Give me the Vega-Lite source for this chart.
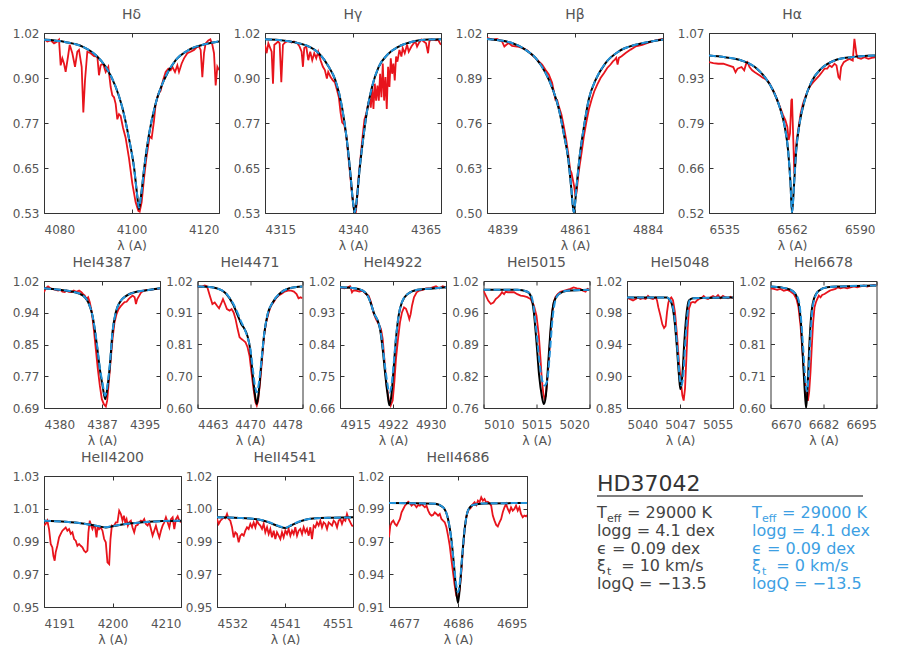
{
"$schema": "https://vega.github.io/schema/vega-lite/v6.json",
"background": "white",
"padding": {"left": 11, "top": 7, "right": 5, "bottom": 5},
"config": {
 "font": "DejaVu Sans",
 "view": {"stroke": "#333333", "strokeWidth": 1},
 "axis": {"domain": false, "grid": false, "tickColor": "#333333", "tickSize": -4, "tickWidth": 1, "labelColor": "#555555", "labelFontSize": 12, "titleColor": "#555555", "titleFontSize": 12.5, "titleFontWeight": "normal", "labelFont": "DejaVu Sans", "titleFont": "DejaVu Sans"},
 "axisX": {"labelPadding": 15, "titlePadding": 4},
 "axisY": {"labelPadding": 9},
 "title": {"fontSize": 14, "fontWeight": "normal", "color": "#555555", "offset": 5, "font": "DejaVu Sans"}
},
"datasets": {
 "Hd": [
{"s":"o","w":4080.0,"f":1.003},{"s":"o","w":4080.76,"f":0.997},{"s":"o","w":4081.52,"f":1.0},{"s":"o","w":4082.29,"f":0.992},{"s":"o","w":4083.05,"f":0.997},{"s":"o","w":4083.43,"f":1.002},{"s":"o","w":4083.81,"f":0.932},{"s":"o","w":4084.19,"f":0.951},{"s":"o","w":4084.57,"f":0.937},{"s":"o","w":4084.95,"f":0.914},{"s":"o","w":4085.49,"f":0.956},{"s":"o","w":4085.87,"f":0.988},{"s":"o","w":4086.48,"f":0.965},{"s":"o","w":4087.09,"f":0.928},{"s":"o","w":4087.62,"f":0.969},{"s":"o","w":4088.0,"f":0.974},{"s":"o","w":4088.61,"f":0.928},{"s":"o","w":4088.99,"f":0.804},{"s":"o","w":4089.37,"f":0.891},{"s":"o","w":4089.9,"f":0.969},{"s":"o","w":4090.67,"f":0.965},{"s":"o","w":4091.43,"f":0.957},{"s":"o","w":4092.19,"f":0.956},{"s":"o","w":4092.57,"f":0.905},{"s":"o","w":4092.95,"f":0.932},{"s":"o","w":4093.49,"f":0.937},{"s":"o","w":4094.1,"f":0.914},{"s":"o","w":4094.7,"f":0.928},{"s":"o","w":4095.24,"f":0.873},{"s":"o","w":4095.62,"f":0.85},{"s":"o","w":4096.0,"f":0.845},{"s":"o","w":4096.38,"f":0.827},{"s":"o","w":4096.76,"f":0.785},{"s":"o","w":4097.14,"f":0.799},{"s":"o","w":4097.52,"f":0.794},{"s":"o","w":4098.06,"f":0.762},{"s":"o","w":4098.67,"f":0.734},{"s":"o","w":4099.43,"f":0.679},{"s":"o","w":4100.19,"f":0.61},{"s":"o","w":4100.95,"f":0.559},{"s":"o","w":4101.56,"f":0.536},{"s":"o","w":4101.87,"f":0.534},{"s":"o","w":4102.32,"f":0.559},{"s":"o","w":4102.86,"f":0.624},{"s":"o","w":4103.39,"f":0.679},{"s":"o","w":4103.85,"f":0.716},{"s":"o","w":4104.15,"f":0.739},{"s":"o","w":4104.61,"f":0.734},{"s":"o","w":4105.14,"f":0.781},{"s":"o","w":4105.52,"f":0.827},{"s":"o","w":4106.13,"f":0.854},{"s":"o","w":4106.67,"f":0.863},{"s":"o","w":4107.2,"f":0.891},{"s":"o","w":4107.81,"f":0.914},{"s":"o","w":4108.42,"f":0.923},{"s":"o","w":4108.95,"f":0.919},{"s":"o","w":4109.33,"f":0.928},{"s":"o","w":4109.94,"f":0.914},{"s":"o","w":4110.48,"f":0.932},{"s":"o","w":4110.86,"f":0.914},{"s":"o","w":4111.47,"f":0.937},{"s":"o","w":4112.0,"f":0.951},{"s":"o","w":4112.76,"f":0.965},{"s":"o","w":4113.52,"f":0.969},{"s":"o","w":4114.29,"f":0.974},{"s":"o","w":4115.05,"f":0.983},{"s":"o","w":4115.43,"f":0.983},{"s":"o","w":4115.81,"f":0.974},{"s":"o","w":4116.19,"f":0.9},{"s":"o","w":4116.57,"f":0.965},{"s":"o","w":4116.95,"f":0.992},{"s":"o","w":4117.56,"f":1.0},{"s":"o","w":4118.02,"f":1.003},{"s":"o","w":4118.48,"f":0.988},{"s":"o","w":4118.86,"f":0.965},{"s":"o","w":4119.24,"f":0.877},{"s":"o","w":4119.62,"f":0.928},{"s":"o","w":4120.0,"f":0.919},
{"s":"k","w":4080,"f":1.002},{"s":"k","w":4085,"f":0.995},{"s":"k","w":4088.8,"f":0.983},{"s":"k","w":4091.8,"f":0.96},{"s":"k","w":4094.1,"f":0.928},{"s":"k","w":4096.4,"f":0.873},{"s":"k","w":4097.9,"f":0.817},{"s":"k","w":4099.4,"f":0.734},{"s":"k","w":4100.6,"f":0.652},{"s":"k","w":4101.3,"f":0.578},{"s":"k","w":4101.7,"f":0.54},{"s":"k","w":4102.1,"f":0.569},{"s":"k","w":4102.9,"f":0.652},{"s":"k","w":4104.0,"f":0.744},{"s":"k","w":4105.5,"f":0.827},{"s":"k","w":4107.4,"f":0.891},{"s":"k","w":4110.1,"f":0.946},{"s":"k","w":4113.1,"f":0.974},{"s":"k","w":4117.0,"f":0.99},{"s":"k","w":4120,"f":0.997},
{"s":"b","w":4080,"f":1.002},{"s":"b","w":4085,"f":0.995},{"s":"b","w":4088.8,"f":0.983},{"s":"b","w":4091.8,"f":0.96},{"s":"b","w":4094.1,"f":0.928},{"s":"b","w":4096.4,"f":0.873},{"s":"b","w":4097.9,"f":0.817},{"s":"b","w":4099.4,"f":0.734},{"s":"b","w":4100.6,"f":0.652},{"s":"b","w":4101.3,"f":0.578},{"s":"b","w":4101.7,"f":0.545},{"s":"b","w":4102.1,"f":0.569},{"s":"b","w":4102.9,"f":0.652},{"s":"b","w":4104.0,"f":0.744},{"s":"b","w":4105.5,"f":0.827},{"s":"b","w":4107.4,"f":0.891},{"s":"b","w":4110.1,"f":0.946},{"s":"b","w":4113.1,"f":0.974},{"s":"b","w":4117.0,"f":0.99},{"s":"b","w":4120,"f":0.997}
 ],
 "Hg": [
{"s":"o","w":4315.0,"f":0.988},{"s":"o","w":4315.47,"f":0.965},{"s":"o","w":4315.95,"f":0.992},{"s":"o","w":4316.32,"f":0.983},{"s":"o","w":4316.89,"f":0.969},{"s":"o","w":4317.27,"f":0.882},{"s":"o","w":4317.65,"f":0.988},{"s":"o","w":4318.21,"f":0.992},{"s":"o","w":4318.69,"f":0.997},{"s":"o","w":4319.16,"f":0.992},{"s":"o","w":4319.63,"f":0.886},{"s":"o","w":4320.1,"f":0.988},{"s":"o","w":4320.67,"f":0.994},{"s":"o","w":4321.33,"f":0.997},{"s":"o","w":4321.99,"f":0.997},{"s":"o","w":4322.56,"f":0.994},{"s":"o","w":4323.22,"f":0.997},{"s":"o","w":4324.17,"f":0.992},{"s":"o","w":4324.83,"f":0.983},{"s":"o","w":4325.4,"f":0.969},{"s":"o","w":4325.78,"f":0.928},{"s":"o","w":4326.15,"f":0.979},{"s":"o","w":4326.72,"f":0.983},{"s":"o","w":4327.29,"f":0.946},{"s":"o","w":4327.85,"f":0.969},{"s":"o","w":4328.42,"f":0.946},{"s":"o","w":4328.99,"f":0.965},{"s":"o","w":4329.56,"f":0.951},{"s":"o","w":4330.12,"f":0.969},{"s":"o","w":4330.78,"f":0.946},{"s":"o","w":4331.45,"f":0.928},{"s":"o","w":4332.01,"f":0.919},{"s":"o","w":4332.58,"f":0.896},{"s":"o","w":4332.96,"f":0.914},{"s":"o","w":4333.62,"f":0.9},{"s":"o","w":4334.28,"f":0.891},{"s":"o","w":4334.85,"f":0.886},{"s":"o","w":4335.51,"f":0.863},{"s":"o","w":4335.98,"f":0.845},{"s":"o","w":4336.46,"f":0.804},{"s":"o","w":4336.93,"f":0.776},{"s":"o","w":4337.5,"f":0.771},{"s":"o","w":4338.06,"f":0.744},{"s":"o","w":4338.63,"f":0.688},{"s":"o","w":4339.2,"f":0.633},{"s":"o","w":4339.76,"f":0.578},{"s":"o","w":4340.33,"f":0.537},{"s":"o","w":4340.71,"f":0.525},{"s":"o","w":4341.09,"f":0.559},{"s":"o","w":4341.65,"f":0.633},{"s":"o","w":4342.22,"f":0.688},{"s":"o","w":4342.79,"f":0.744},{"s":"o","w":4343.26,"f":0.785},{"s":"o","w":4343.73,"f":0.799},{"s":"o","w":4344.3,"f":0.827},{"s":"o","w":4344.68,"f":0.84},{"s":"o","w":4345.06,"f":0.817},{"s":"o","w":4345.44,"f":0.873},{"s":"o","w":4345.81,"f":0.813},{"s":"o","w":4346.19,"f":0.882},{"s":"o","w":4346.57,"f":0.836},{"s":"o","w":4346.95,"f":0.877},{"s":"o","w":4347.33,"f":0.836},{"s":"o","w":4347.7,"f":0.909},{"s":"o","w":4348.08,"f":0.845},{"s":"o","w":4348.46,"f":0.937},{"s":"o","w":4348.84,"f":0.836},{"s":"o","w":4349.22,"f":0.9},{"s":"o","w":4349.59,"f":0.813},{"s":"o","w":4349.97,"f":0.928},{"s":"o","w":4350.35,"f":0.873},{"s":"o","w":4350.73,"f":0.951},{"s":"o","w":4351.11,"f":0.909},{"s":"o","w":4351.48,"f":0.937},{"s":"o","w":4351.86,"f":0.891},{"s":"o","w":4352.24,"f":0.956},{"s":"o","w":4352.62,"f":0.942},{"s":"o","w":4353.19,"f":0.974},{"s":"o","w":4353.75,"f":0.956},{"s":"o","w":4354.13,"f":0.979},{"s":"o","w":4354.7,"f":0.965},{"s":"o","w":4355.36,"f":0.988},{"s":"o","w":4355.83,"f":0.969},{"s":"o","w":4356.59,"f":0.983},{"s":"o","w":4357.25,"f":0.992},{"s":"o","w":4357.72,"f":0.997},{"s":"o","w":4358.2,"f":0.983},{"s":"o","w":4358.67,"f":0.992},{"s":"o","w":4359.42,"f":1.002},{"s":"o","w":4360.09,"f":0.997},{"s":"o","w":4360.75,"f":0.992},{"s":"o","w":4361.32,"f":0.965},{"s":"o","w":4361.69,"f":0.997},{"s":"o","w":4362.26,"f":1.003},{"s":"o","w":4362.92,"f":1.002},{"s":"o","w":4363.58,"f":1.0},{"s":"o","w":4364.15,"f":1.002},{"s":"o","w":4364.72,"f":0.992},{"s":"o","w":4365.0,"f":0.988},
{"s":"k","w":4315,"f":1.003},{"s":"k","w":4319.0,"f":1.001},{"s":"k","w":4323.7,"f":0.994},{"s":"k","w":4327.5,"f":0.983},{"s":"k","w":4330.3,"f":0.965},{"s":"k","w":4333.1,"f":0.928},{"s":"k","w":4335.0,"f":0.891},{"s":"k","w":4336.9,"f":0.817},{"s":"k","w":4338.3,"f":0.725},{"s":"k","w":4339.3,"f":0.633},{"s":"k","w":4339.9,"f":0.569},{"s":"k","w":4340.5,"f":0.53},{"s":"k","w":4341.1,"f":0.569},{"s":"k","w":4341.8,"f":0.642},{"s":"k","w":4342.8,"f":0.725},{"s":"k","w":4344.0,"f":0.808},{"s":"k","w":4345.4,"f":0.873},{"s":"k","w":4347.3,"f":0.928},{"s":"k","w":4349.7,"f":0.96},{"s":"k","w":4353.0,"f":0.983},{"s":"k","w":4356.8,"f":0.996},{"s":"k","w":4361.5,"f":1.002},{"s":"k","w":4365,"f":1.003},
{"s":"b","w":4315,"f":1.003},{"s":"b","w":4319.0,"f":1.001},{"s":"b","w":4323.7,"f":0.994},{"s":"b","w":4327.5,"f":0.983},{"s":"b","w":4330.3,"f":0.965},{"s":"b","w":4333.1,"f":0.928},{"s":"b","w":4335.0,"f":0.891},{"s":"b","w":4336.9,"f":0.817},{"s":"b","w":4338.3,"f":0.725},{"s":"b","w":4339.3,"f":0.633},{"s":"b","w":4339.9,"f":0.569},{"s":"b","w":4340.5,"f":0.532},{"s":"b","w":4341.1,"f":0.569},{"s":"b","w":4341.8,"f":0.642},{"s":"b","w":4342.8,"f":0.725},{"s":"b","w":4344.0,"f":0.808},{"s":"b","w":4345.4,"f":0.873},{"s":"b","w":4347.3,"f":0.928},{"s":"b","w":4349.7,"f":0.96},{"s":"b","w":4353.0,"f":0.983},{"s":"b","w":4356.8,"f":0.996},{"s":"b","w":4361.5,"f":1.002},{"s":"b","w":4365,"f":1.003}
 ],
 "Hb": [
{"s":"o","w":4839.0,"f":1.006},{"s":"o","w":4840.28,"f":1.001},{"s":"o","w":4841.56,"f":1.003},{"s":"o","w":4842.84,"f":0.996},{"s":"o","w":4843.44,"f":0.981},{"s":"o","w":4843.95,"f":0.986},{"s":"o","w":4844.55,"f":0.991},{"s":"o","w":4845.4,"f":0.983},{"s":"o","w":4846.69,"f":0.981},{"s":"o","w":4847.97,"f":0.977},{"s":"o","w":4849.25,"f":0.97},{"s":"o","w":4850.53,"f":0.957},{"s":"o","w":4851.38,"f":0.948},{"s":"o","w":4852.24,"f":0.938},{"s":"o","w":4853.09,"f":0.929},{"s":"o","w":4853.94,"f":0.914},{"s":"o","w":4854.8,"f":0.9},{"s":"o","w":4855.65,"f":0.876},{"s":"o","w":4856.08,"f":0.851},{"s":"o","w":4856.5,"f":0.827},{"s":"o","w":4856.93,"f":0.827},{"s":"o","w":4857.36,"f":0.808},{"s":"o","w":4858.04,"f":0.784},{"s":"o","w":4858.64,"f":0.75},{"s":"o","w":4859.24,"f":0.712},{"s":"o","w":4859.75,"f":0.673},{"s":"o","w":4860.26,"f":0.625},{"s":"o","w":4860.6,"f":0.616},{"s":"o","w":4860.95,"f":0.596},{"s":"o","w":4861.29,"f":0.577},{"s":"o","w":4861.63,"f":0.548},{"s":"o","w":4861.89,"f":0.558},{"s":"o","w":4862.31,"f":0.606},{"s":"o","w":4862.65,"f":0.635},{"s":"o","w":4863.17,"f":0.673},{"s":"o","w":4863.76,"f":0.721},{"s":"o","w":4864.36,"f":0.76},{"s":"o","w":4865.04,"f":0.799},{"s":"o","w":4865.73,"f":0.827},{"s":"o","w":4866.41,"f":0.851},{"s":"o","w":4867.18,"f":0.871},{"s":"o","w":4868.03,"f":0.89},{"s":"o","w":4868.89,"f":0.904},{"s":"o","w":4869.74,"f":0.919},{"s":"o","w":4870.59,"f":0.929},{"s":"o","w":4871.19,"f":0.938},{"s":"o","w":4871.7,"f":0.943},{"s":"o","w":4872.05,"f":0.948},{"s":"o","w":4872.39,"f":0.929},{"s":"o","w":4872.73,"f":0.948},{"s":"o","w":4873.41,"f":0.953},{"s":"o","w":4874.44,"f":0.962},{"s":"o","w":4875.72,"f":0.972},{"s":"o","w":4877.0,"f":0.981},{"s":"o","w":4878.71,"f":0.986},{"s":"o","w":4880.41,"f":0.993},{"s":"o","w":4882.12,"f":0.999},{"s":"o","w":4884.0,"f":1.003},
{"s":"k","w":4839,"f":1.003},{"s":"k","w":4842.0,"f":0.999},{"s":"k","w":4845.4,"f":0.991},{"s":"k","w":4848.8,"f":0.972},{"s":"k","w":4851.4,"f":0.948},{"s":"k","w":4854.0,"f":0.904},{"s":"k","w":4855.7,"f":0.861},{"s":"k","w":4857.4,"f":0.799},{"s":"k","w":4858.6,"f":0.731},{"s":"k","w":4859.8,"f":0.654},{"s":"k","w":4860.5,"f":0.577},{"s":"k","w":4861.2,"f":0.5},{"s":"k","w":4861.9,"f":0.577},{"s":"k","w":4862.7,"f":0.664},{"s":"k","w":4863.8,"f":0.75},{"s":"k","w":4865.0,"f":0.827},{"s":"k","w":4866.8,"f":0.885},{"s":"k","w":4869.3,"f":0.933},{"s":"k","w":4872.7,"f":0.967},{"s":"k","w":4877.0,"f":0.986},{"s":"k","w":4881.3,"f":0.996},{"s":"k","w":4884,"f":1.001},
{"s":"b","w":4839,"f":1.003},{"s":"b","w":4842.0,"f":0.999},{"s":"b","w":4845.4,"f":0.991},{"s":"b","w":4848.8,"f":0.972},{"s":"b","w":4851.4,"f":0.948},{"s":"b","w":4854.0,"f":0.904},{"s":"b","w":4855.7,"f":0.861},{"s":"b","w":4857.4,"f":0.799},{"s":"b","w":4858.6,"f":0.731},{"s":"b","w":4859.8,"f":0.654},{"s":"b","w":4860.5,"f":0.577},{"s":"b","w":4861.2,"f":0.503},{"s":"b","w":4861.9,"f":0.577},{"s":"b","w":4862.7,"f":0.664},{"s":"b","w":4863.8,"f":0.75},{"s":"b","w":4865.0,"f":0.827},{"s":"b","w":4866.8,"f":0.885},{"s":"b","w":4869.3,"f":0.933},{"s":"b","w":4872.7,"f":0.967},{"s":"b","w":4877.0,"f":0.986},{"s":"b","w":4881.3,"f":0.996},{"s":"b","w":4884,"f":1.001}
 ],
 "Ha": [
{"s":"o","w":6535.0,"f":0.981},{"s":"o","w":6536.43,"f":0.978},{"s":"o","w":6538.08,"f":0.976},{"s":"o","w":6539.73,"f":0.976},{"s":"o","w":6541.38,"f":0.971},{"s":"o","w":6543.03,"f":0.966},{"s":"o","w":6543.8,"f":0.95},{"s":"o","w":6544.46,"f":0.961},{"s":"o","w":6545.78,"f":0.966},{"s":"o","w":6546.66,"f":0.956},{"s":"o","w":6547.32,"f":0.976},{"s":"o","w":6547.76,"f":0.981},{"s":"o","w":6548.42,"f":0.966},{"s":"o","w":6549.3,"f":0.956},{"s":"o","w":6550.18,"f":0.95},{"s":"o","w":6551.06,"f":0.945},{"s":"o","w":6551.83,"f":0.94},{"s":"o","w":6552.6,"f":0.935},{"s":"o","w":6553.48,"f":0.93},{"s":"o","w":6554.36,"f":0.925},{"s":"o","w":6555.13,"f":0.915},{"s":"o","w":6555.9,"f":0.9},{"s":"o","w":6556.78,"f":0.885},{"s":"o","w":6557.66,"f":0.864},{"s":"o","w":6558.54,"f":0.844},{"s":"o","w":6559.53,"f":0.819},{"s":"o","w":6560.3,"f":0.804},{"s":"o","w":6560.96,"f":0.783},{"s":"o","w":6561.4,"f":0.743},{"s":"o","w":6561.84,"f":0.763},{"s":"o","w":6562.28,"f":0.864},{"s":"o","w":6562.5,"f":0.869},{"s":"o","w":6562.83,"f":0.773},{"s":"o","w":6563.27,"f":0.641},{"s":"o","w":6563.6,"f":0.692},{"s":"o","w":6564.04,"f":0.743},{"s":"o","w":6564.7,"f":0.783},{"s":"o","w":6565.36,"f":0.824},{"s":"o","w":6566.13,"f":0.854},{"s":"o","w":6566.9,"f":0.874},{"s":"o","w":6567.78,"f":0.895},{"s":"o","w":6568.66,"f":0.91},{"s":"o","w":6569.54,"f":0.92},{"s":"o","w":6570.53,"f":0.93},{"s":"o","w":6571.52,"f":0.94},{"s":"o","w":6572.4,"f":0.95},{"s":"o","w":6573.28,"f":0.961},{"s":"o","w":6574.16,"f":0.961},{"s":"o","w":6574.93,"f":0.971},{"s":"o","w":6575.7,"f":0.966},{"s":"o","w":6576.58,"f":0.976},{"s":"o","w":6577.24,"f":0.971},{"s":"o","w":6577.9,"f":0.935},{"s":"o","w":6578.34,"f":0.93},{"s":"o","w":6578.78,"f":0.966},{"s":"o","w":6579.66,"f":0.981},{"s":"o","w":6580.54,"f":0.986},{"s":"o","w":6581.53,"f":0.991},{"s":"o","w":6582.63,"f":0.986},{"s":"o","w":6583.18,"f":1.052},{"s":"o","w":6583.84,"f":1.006},{"s":"o","w":6584.28,"f":0.994},{"s":"o","w":6585.38,"f":0.991},{"s":"o","w":6586.48,"f":0.996},{"s":"o","w":6587.8,"f":0.991},{"s":"o","w":6588.9,"f":0.994},{"s":"o","w":6590.0,"f":0.996},
{"s":"k","w":6535,"f":1.001},{"s":"k","w":6540.3,"f":0.996},{"s":"k","w":6545.8,"f":0.986},{"s":"k","w":6550.2,"f":0.966},{"s":"k","w":6553.5,"f":0.935},{"s":"k","w":6556.2,"f":0.895},{"s":"k","w":6558.4,"f":0.844},{"s":"k","w":6560.1,"f":0.783},{"s":"k","w":6561.2,"f":0.712},{"s":"k","w":6562.0,"f":0.611},{"s":"k","w":6562.5,"f":0.52},{"s":"k","w":6563.2,"f":0.611},{"s":"k","w":6563.9,"f":0.712},{"s":"k","w":6565.0,"f":0.793},{"s":"k","w":6566.7,"f":0.864},{"s":"k","w":6568.9,"f":0.92},{"s":"k","w":6572.2,"f":0.961},{"s":"k","w":6576.6,"f":0.986},{"s":"k","w":6582.1,"f":0.996},{"s":"k","w":6590,"f":1.001},
{"s":"b","w":6535,"f":1.001},{"s":"b","w":6540.3,"f":0.996},{"s":"b","w":6545.8,"f":0.986},{"s":"b","w":6550.2,"f":0.966},{"s":"b","w":6553.5,"f":0.935},{"s":"b","w":6556.2,"f":0.895},{"s":"b","w":6558.4,"f":0.844},{"s":"b","w":6560.1,"f":0.783},{"s":"b","w":6561.2,"f":0.712},{"s":"b","w":6562.0,"f":0.611},{"s":"b","w":6562.5,"f":0.523},{"s":"b","w":6563.2,"f":0.611},{"s":"b","w":6563.9,"f":0.712},{"s":"b","w":6565.0,"f":0.793},{"s":"b","w":6566.7,"f":0.864},{"s":"b","w":6568.9,"f":0.92},{"s":"b","w":6572.2,"f":0.961},{"s":"b","w":6576.6,"f":0.986},{"s":"b","w":6582.1,"f":0.996},{"s":"b","w":6590,"f":1.001}
 ],
 "He4387": [
{"s":"o","w":4380.0,"f":0.991},{"s":"o","w":4380.22,"f":1.001},{"s":"o","w":4380.52,"f":1.006},{"s":"o","w":4380.82,"f":1.001},{"s":"o","w":4381.17,"f":0.999},{"s":"o","w":4381.51,"f":0.997},{"s":"o","w":4381.82,"f":0.995},{"s":"o","w":4382.12,"f":0.997},{"s":"o","w":4382.38,"f":0.992},{"s":"o","w":4382.68,"f":0.991},{"s":"o","w":4382.9,"f":0.995},{"s":"o","w":4383.2,"f":0.992},{"s":"o","w":4383.54,"f":0.991},{"s":"o","w":4383.85,"f":0.995},{"s":"o","w":4384.19,"f":0.992},{"s":"o","w":4384.54,"f":0.995},{"s":"o","w":4384.84,"f":0.991},{"s":"o","w":4385.06,"f":0.986},{"s":"o","w":4385.27,"f":0.982},{"s":"o","w":4385.49,"f":0.973},{"s":"o","w":4385.71,"f":0.978},{"s":"o","w":4385.92,"f":0.965},{"s":"o","w":4386.18,"f":0.939},{"s":"o","w":4386.44,"f":0.895},{"s":"o","w":4386.7,"f":0.843},{"s":"o","w":4386.96,"f":0.791},{"s":"o","w":4387.22,"f":0.748},{"s":"o","w":4387.48,"f":0.713},{"s":"o","w":4387.74,"f":0.7},{"s":"o","w":4388.0,"f":0.694},{"s":"o","w":4388.17,"f":0.709},{"s":"o","w":4388.34,"f":0.748},{"s":"o","w":4388.6,"f":0.809},{"s":"o","w":4388.86,"f":0.869},{"s":"o","w":4389.12,"f":0.913},{"s":"o","w":4389.38,"f":0.934},{"s":"o","w":4389.64,"f":0.947},{"s":"o","w":4389.9,"f":0.954},{"s":"o","w":4390.16,"f":0.96},{"s":"o","w":4390.42,"f":0.965},{"s":"o","w":4390.68,"f":0.966},{"s":"o","w":4390.94,"f":0.973},{"s":"o","w":4391.2,"f":0.978},{"s":"o","w":4391.46,"f":0.982},{"s":"o","w":4391.72,"f":0.978},{"s":"o","w":4391.89,"f":0.96},{"s":"o","w":4392.06,"f":0.973},{"s":"o","w":4392.32,"f":0.982},{"s":"o","w":4392.58,"f":0.991},{"s":"o","w":4392.93,"f":0.995},{"s":"o","w":4393.36,"f":0.997},{"s":"o","w":4393.79,"f":0.997},{"s":"o","w":4394.22,"f":0.999},{"s":"o","w":4394.66,"f":0.999},{"s":"o","w":4395.0,"f":1.001},
{"s":"k","w":4380.0,"f":1.001},{"s":"k","w":4382.03,"f":0.997},{"s":"k","w":4383.76,"f":0.992},{"s":"k","w":4385.06,"f":0.982},{"s":"k","w":4385.71,"f":0.965},{"s":"k","w":4386.27,"f":0.93},{"s":"k","w":4386.79,"f":0.861},{"s":"k","w":4387.22,"f":0.791},{"s":"k","w":4387.57,"f":0.748},{"s":"k","w":4387.91,"f":0.713},{"s":"k","w":4388.17,"f":0.739},{"s":"k","w":4388.52,"f":0.8},{"s":"k","w":4388.86,"f":0.887},{"s":"k","w":4389.29,"f":0.939},{"s":"k","w":4389.81,"f":0.965},{"s":"k","w":4390.68,"f":0.982},{"s":"k","w":4391.97,"f":0.992},{"s":"k","w":4393.7,"f":0.997},{"s":"k","w":4395.0,"f":1.001},
{"s":"b","w":4380.0,"f":1.001},{"s":"b","w":4382.03,"f":0.997},{"s":"b","w":4383.76,"f":0.992},{"s":"b","w":4385.06,"f":0.982},{"s":"b","w":4385.71,"f":0.965},{"s":"b","w":4386.27,"f":0.93},{"s":"b","w":4386.79,"f":0.865},{"s":"b","w":4387.22,"f":0.795},{"s":"b","w":4387.57,"f":0.755},{"s":"b","w":4387.91,"f":0.722},{"s":"b","w":4388.17,"f":0.745},{"s":"b","w":4388.52,"f":0.805},{"s":"b","w":4388.86,"f":0.887},{"s":"b","w":4389.29,"f":0.939},{"s":"b","w":4389.81,"f":0.965},{"s":"b","w":4390.68,"f":0.982},{"s":"b","w":4391.97,"f":0.992},{"s":"b","w":4393.7,"f":0.997},{"s":"b","w":4395.0,"f":1.001}
 ],
 "He4471": [
{"s":"o","w":4463.0,"f":1.001},{"s":"o","w":4463.57,"f":1.001},{"s":"o","w":4464.04,"f":1.005},{"s":"o","w":4464.37,"f":1.002},{"s":"o","w":4464.75,"f":0.972},{"s":"o","w":4465.13,"f":0.944},{"s":"o","w":4465.46,"f":0.949},{"s":"o","w":4465.79,"f":0.938},{"s":"o","w":4466.08,"f":0.93},{"s":"o","w":4466.36,"f":0.944},{"s":"o","w":4466.64,"f":0.96},{"s":"o","w":4466.93,"f":0.944},{"s":"o","w":4467.21,"f":0.927},{"s":"o","w":4467.59,"f":0.922},{"s":"o","w":4467.87,"f":0.927},{"s":"o","w":4468.16,"f":0.916},{"s":"o","w":4468.44,"f":0.894},{"s":"o","w":4468.73,"f":0.861},{"s":"o","w":4469.01,"f":0.834},{"s":"o","w":4469.29,"f":0.828},{"s":"o","w":4469.58,"f":0.823},{"s":"o","w":4469.86,"f":0.817},{"s":"o","w":4470.15,"f":0.801},{"s":"o","w":4470.43,"f":0.773},{"s":"o","w":4470.71,"f":0.718},{"s":"o","w":4471.0,"f":0.663},{"s":"o","w":4471.28,"f":0.619},{"s":"o","w":4471.47,"f":0.608},{"s":"o","w":4471.66,"f":0.624},{"s":"o","w":4471.94,"f":0.685},{"s":"o","w":4472.23,"f":0.762},{"s":"o","w":4472.51,"f":0.839},{"s":"o","w":4472.8,"f":0.883},{"s":"o","w":4473.17,"f":0.916},{"s":"o","w":4473.5,"f":0.938},{"s":"o","w":4473.84,"f":0.949},{"s":"o","w":4474.21,"f":0.963},{"s":"o","w":4474.59,"f":0.972},{"s":"o","w":4474.97,"f":0.977},{"s":"o","w":4475.45,"f":0.985},{"s":"o","w":4475.92,"f":0.988},{"s":"o","w":4476.39,"f":0.988},{"s":"o","w":4476.77,"f":0.985},{"s":"o","w":4477.15,"f":0.977},{"s":"o","w":4477.43,"f":0.963},{"s":"o","w":4477.72,"f":0.966},{"s":"o","w":4478.0,"f":0.963},
{"s":"k","w":4463.0,"f":1.002},{"s":"k","w":4464.28,"f":1.001},{"s":"k","w":4465.7,"f":0.996},{"s":"k","w":4467.12,"f":0.977},{"s":"k","w":4468.06,"f":0.944},{"s":"k","w":4468.77,"f":0.905},{"s":"k","w":4469.25,"f":0.878},{"s":"k","w":4469.72,"f":0.861},{"s":"k","w":4470.19,"f":0.834},{"s":"k","w":4470.52,"f":0.795},{"s":"k","w":4470.9,"f":0.707},{"s":"k","w":4471.23,"f":0.641},{"s":"k","w":4471.47,"f":0.613},{"s":"k","w":4471.75,"f":0.652},{"s":"k","w":4472.13,"f":0.751},{"s":"k","w":4472.56,"f":0.85},{"s":"k","w":4473.03,"f":0.911},{"s":"k","w":4473.74,"f":0.949},{"s":"k","w":4474.69,"f":0.977},{"s":"k","w":4476.11,"f":0.996},{"s":"k","w":4478.0,"f":1.002},
{"s":"b","w":4463.0,"f":1.002},{"s":"b","w":4464.28,"f":1.001},{"s":"b","w":4465.7,"f":0.996},{"s":"b","w":4467.12,"f":0.978},{"s":"b","w":4468.06,"f":0.947},{"s":"b","w":4468.77,"f":0.912},{"s":"b","w":4469.25,"f":0.885},{"s":"b","w":4469.72,"f":0.862},{"s":"b","w":4470.19,"f":0.83},{"s":"b","w":4470.52,"f":0.8},{"s":"b","w":4470.9,"f":0.73},{"s":"b","w":4471.23,"f":0.67},{"s":"b","w":4471.47,"f":0.652},{"s":"b","w":4471.75,"f":0.68},{"s":"b","w":4472.13,"f":0.755},{"s":"b","w":4472.56,"f":0.85},{"s":"b","w":4473.03,"f":0.911},{"s":"b","w":4473.74,"f":0.949},{"s":"b","w":4474.69,"f":0.977},{"s":"b","w":4476.11,"f":0.996},{"s":"b","w":4478.0,"f":1.002}
 ],
 "He4922": [
{"s":"o","w":4915.0,"f":1.002},{"s":"o","w":4915.61,"f":0.999},{"s":"o","w":4916.08,"f":1.002},{"s":"o","w":4916.42,"f":1.005},{"s":"o","w":4916.7,"f":0.988},{"s":"o","w":4916.89,"f":0.993},{"s":"o","w":4917.26,"f":0.993},{"s":"o","w":4917.74,"f":0.99},{"s":"o","w":4918.21,"f":0.993},{"s":"o","w":4918.68,"f":0.983},{"s":"o","w":4919.06,"f":0.978},{"s":"o","w":4919.39,"f":0.96},{"s":"o","w":4919.72,"f":0.931},{"s":"o","w":4920.09,"f":0.912},{"s":"o","w":4920.47,"f":0.898},{"s":"o","w":4920.8,"f":0.884},{"s":"o","w":4921.04,"f":0.856},{"s":"o","w":4921.32,"f":0.789},{"s":"o","w":4921.6,"f":0.723},{"s":"o","w":4921.89,"f":0.685},{"s":"o","w":4922.17,"f":0.667},{"s":"o","w":4922.45,"f":0.681},{"s":"o","w":4922.69,"f":0.733},{"s":"o","w":4922.92,"f":0.799},{"s":"o","w":4923.21,"f":0.856},{"s":"o","w":4923.49,"f":0.903},{"s":"o","w":4923.77,"f":0.931},{"s":"o","w":4924.06,"f":0.945},{"s":"o","w":4924.34,"f":0.941},{"s":"o","w":4924.62,"f":0.926},{"s":"o","w":4924.81,"f":0.912},{"s":"o","w":4925.0,"f":0.926},{"s":"o","w":4925.19,"f":0.95},{"s":"o","w":4925.47,"f":0.974},{"s":"o","w":4925.85,"f":0.988},{"s":"o","w":4926.23,"f":0.993},{"s":"o","w":4926.7,"f":0.995},{"s":"o","w":4927.17,"f":0.999},{"s":"o","w":4927.74,"f":0.999},{"s":"o","w":4928.11,"f":1.002},{"s":"o","w":4928.59,"f":1.005},{"s":"o","w":4929.06,"f":0.999},{"s":"o","w":4929.53,"f":1.005},{"s":"o","w":4930.0,"f":1.002},
{"s":"k","w":4915.0,"f":1.002},{"s":"k","w":4916.79,"f":1.0},{"s":"k","w":4918.21,"f":0.993},{"s":"k","w":4918.92,"f":0.978},{"s":"k","w":4919.39,"f":0.955},{"s":"k","w":4919.86,"f":0.926},{"s":"k","w":4920.33,"f":0.908},{"s":"k","w":4920.66,"f":0.884},{"s":"k","w":4921.04,"f":0.827},{"s":"k","w":4921.42,"f":0.752},{"s":"k","w":4921.7,"f":0.704},{"s":"k","w":4921.98,"f":0.668},{"s":"k","w":4922.26,"f":0.694},{"s":"k","w":4922.55,"f":0.761},{"s":"k","w":4922.92,"f":0.856},{"s":"k","w":4923.3,"f":0.922},{"s":"k","w":4923.77,"f":0.96},{"s":"k","w":4924.58,"f":0.983},{"s":"k","w":4925.99,"f":0.995},{"s":"k","w":4928.11,"f":0.999},{"s":"k","w":4930.0,"f":1.002},
{"s":"b","w":4915.0,"f":1.002},{"s":"b","w":4916.79,"f":1.0},{"s":"b","w":4918.21,"f":0.993},{"s":"b","w":4918.92,"f":0.978},{"s":"b","w":4919.39,"f":0.955},{"s":"b","w":4919.86,"f":0.926},{"s":"b","w":4920.33,"f":0.908},{"s":"b","w":4920.66,"f":0.886},{"s":"b","w":4921.04,"f":0.835},{"s":"b","w":4921.42,"f":0.77},{"s":"b","w":4921.7,"f":0.73},{"s":"b","w":4921.98,"f":0.704},{"s":"b","w":4922.26,"f":0.72},{"s":"b","w":4922.55,"f":0.775},{"s":"b","w":4922.92,"f":0.86},{"s":"b","w":4923.3,"f":0.922},{"s":"b","w":4923.77,"f":0.96},{"s":"b","w":4924.58,"f":0.983},{"s":"b","w":4925.99,"f":0.995},{"s":"b","w":4928.11,"f":0.999},{"s":"b","w":4930.0,"f":1.002}
 ],
 "He5015": [
{"s":"o","w":5010.0,"f":1.0},{"s":"o","w":5010.22,"f":0.99},{"s":"o","w":5010.44,"f":0.98},{"s":"o","w":5010.69,"f":0.973},{"s":"o","w":5010.94,"f":0.976},{"s":"o","w":5011.16,"f":0.983},{"s":"o","w":5011.38,"f":0.987},{"s":"o","w":5011.56,"f":0.991},{"s":"o","w":5011.75,"f":0.997},{"s":"o","w":5011.94,"f":0.993},{"s":"o","w":5012.09,"f":0.998},{"s":"o","w":5012.31,"f":0.997},{"s":"o","w":5012.56,"f":0.997},{"s":"o","w":5012.88,"f":0.997},{"s":"o","w":5013.19,"f":0.993},{"s":"o","w":5013.5,"f":0.99},{"s":"o","w":5013.81,"f":0.989},{"s":"o","w":5014.13,"f":0.987},{"s":"o","w":5014.44,"f":0.983},{"s":"o","w":5014.75,"f":0.97},{"s":"o","w":5015.0,"f":0.949},{"s":"o","w":5015.22,"f":0.908},{"s":"o","w":5015.38,"f":0.86},{"s":"o","w":5015.5,"f":0.819},{"s":"o","w":5015.63,"f":0.792},{"s":"o","w":5015.75,"f":0.779},{"s":"o","w":5015.88,"f":0.785},{"s":"o","w":5016.0,"f":0.813},{"s":"o","w":5016.13,"f":0.847},{"s":"o","w":5016.25,"f":0.888},{"s":"o","w":5016.38,"f":0.929},{"s":"o","w":5016.5,"f":0.959},{"s":"o","w":5016.63,"f":0.976},{"s":"o","w":5016.78,"f":0.987},{"s":"o","w":5017.0,"f":0.993},{"s":"o","w":5017.25,"f":0.998},{"s":"o","w":5017.56,"f":1.0},{"s":"o","w":5017.88,"f":1.002},{"s":"o","w":5018.19,"f":1.004},{"s":"o","w":5018.5,"f":1.007},{"s":"o","w":5018.81,"f":1.005},{"s":"o","w":5019.13,"f":1.004},{"s":"o","w":5019.38,"f":1.0},{"s":"o","w":5019.63,"f":0.998},{"s":"o","w":5019.81,"f":1.004},{"s":"o","w":5020.0,"f":1.002},
{"s":"k","w":5010.0,"f":1.002},{"s":"k","w":5013.19,"f":1.002},{"s":"k","w":5014.13,"f":0.998},{"s":"k","w":5014.5,"f":0.987},{"s":"k","w":5014.75,"f":0.956},{"s":"k","w":5015.0,"f":0.895},{"s":"k","w":5015.25,"f":0.826},{"s":"k","w":5015.5,"f":0.785},{"s":"k","w":5015.69,"f":0.768},{"s":"k","w":5015.88,"f":0.785},{"s":"k","w":5016.13,"f":0.86},{"s":"k","w":5016.38,"f":0.935},{"s":"k","w":5016.63,"f":0.976},{"s":"k","w":5017.09,"f":0.993},{"s":"k","w":5017.88,"f":1.0},{"s":"k","w":5020.0,"f":1.002},
{"s":"b","w":5010.0,"f":1.002},{"s":"b","w":5013.19,"f":1.002},{"s":"b","w":5014.13,"f":0.998},{"s":"b","w":5014.5,"f":0.99},{"s":"b","w":5014.75,"f":0.965},{"s":"b","w":5015.0,"f":0.915},{"s":"b","w":5015.25,"f":0.86},{"s":"b","w":5015.5,"f":0.82},{"s":"b","w":5015.75,"f":0.806},{"s":"b","w":5016.0,"f":0.815},{"s":"b","w":5016.25,"f":0.87},{"s":"b","w":5016.5,"f":0.94},{"s":"b","w":5016.75,"f":0.978},{"s":"b","w":5017.09,"f":0.993},{"s":"b","w":5017.88,"f":1.0},{"s":"b","w":5020.0,"f":1.002}
 ],
 "He5048": [
{"s":"o","w":5040.0,"f":0.998},{"s":"o","w":5040.38,"f":0.996},{"s":"o","w":5040.85,"f":0.994},{"s":"o","w":5041.23,"f":0.996},{"s":"o","w":5041.56,"f":0.998},{"s":"o","w":5041.89,"f":0.996},{"s":"o","w":5042.26,"f":0.997},{"s":"o","w":5042.64,"f":0.996},{"s":"o","w":5042.97,"f":1.0},{"s":"o","w":5043.3,"f":0.997},{"s":"o","w":5043.68,"f":0.996},{"s":"o","w":5044.06,"f":0.998},{"s":"o","w":5044.25,"f":0.994},{"s":"o","w":5044.43,"f":0.985},{"s":"o","w":5044.72,"f":0.974},{"s":"o","w":5045.0,"f":0.962},{"s":"o","w":5045.24,"f":0.957},{"s":"o","w":5045.47,"f":0.96},{"s":"o","w":5045.66,"f":0.978},{"s":"o","w":5045.85,"f":0.991},{"s":"o","w":5046.04,"f":0.996},{"s":"o","w":5046.27,"f":0.998},{"s":"o","w":5046.51,"f":0.994},{"s":"o","w":5046.79,"f":0.978},{"s":"o","w":5047.08,"f":0.947},{"s":"o","w":5047.36,"f":0.911},{"s":"o","w":5047.64,"f":0.884},{"s":"o","w":5047.83,"f":0.867},{"s":"o","w":5048.02,"f":0.86},{"s":"o","w":5048.21,"f":0.876},{"s":"o","w":5048.4,"f":0.916},{"s":"o","w":5048.58,"f":0.956},{"s":"o","w":5048.77,"f":0.983},{"s":"o","w":5049.06,"f":0.991},{"s":"o","w":5049.34,"f":0.992},{"s":"o","w":5049.62,"f":0.991},{"s":"o","w":5049.91,"f":0.994},{"s":"o","w":5050.19,"f":0.996},{"s":"o","w":5050.52,"f":0.997},{"s":"o","w":5050.85,"f":1.0},{"s":"o","w":5051.13,"f":0.997},{"s":"o","w":5051.46,"f":0.996},{"s":"o","w":5051.79,"f":0.998},{"s":"o","w":5052.17,"f":1.0},{"s":"o","w":5052.55,"f":0.998},{"s":"o","w":5052.88,"f":1.001},{"s":"o","w":5053.21,"f":0.997},{"s":"o","w":5053.58,"f":1.0},{"s":"o","w":5053.96,"f":0.998},{"s":"o","w":5054.29,"f":0.997},{"s":"o","w":5054.62,"f":0.999},{"s":"o","w":5055.0,"f":0.997},
{"s":"k","w":5040.0,"f":0.998},{"s":"k","w":5045.57,"f":0.998},{"s":"k","w":5046.27,"f":0.991},{"s":"k","w":5046.75,"f":0.965},{"s":"k","w":5047.08,"f":0.929},{"s":"k","w":5047.36,"f":0.893},{"s":"k","w":5047.55,"f":0.875},{"s":"k","w":5047.83,"f":0.893},{"s":"k","w":5048.11,"f":0.938},{"s":"k","w":5048.4,"f":0.974},{"s":"k","w":5048.77,"f":0.994},{"s":"k","w":5049.34,"f":0.997},{"s":"k","w":5055.0,"f":0.998},
{"s":"b","w":5040.0,"f":0.998},{"s":"b","w":5045.57,"f":0.998},{"s":"b","w":5046.32,"f":0.991},{"s":"b","w":5046.84,"f":0.962},{"s":"b","w":5047.17,"f":0.925},{"s":"b","w":5047.45,"f":0.892},{"s":"b","w":5047.69,"f":0.88},{"s":"b","w":5047.97,"f":0.895},{"s":"b","w":5048.25,"f":0.938},{"s":"b","w":5048.54,"f":0.974},{"s":"b","w":5048.87,"f":0.994},{"s":"b","w":5049.43,"f":0.997},{"s":"b","w":5055.0,"f":0.998}
 ],
 "He6678": [
{"s":"o","w":6670.0,"f":0.996},{"s":"o","w":6670.79,"f":0.994},{"s":"o","w":6671.57,"f":0.991},{"s":"o","w":6672.36,"f":0.994},{"s":"o","w":6673.14,"f":0.988},{"s":"o","w":6673.93,"f":0.991},{"s":"o","w":6674.72,"f":0.985},{"s":"o","w":6675.5,"f":0.977},{"s":"o","w":6676.13,"f":0.96},{"s":"o","w":6676.6,"f":0.933},{"s":"o","w":6677.08,"f":0.872},{"s":"o","w":6677.55,"f":0.784},{"s":"o","w":6678.02,"f":0.696},{"s":"o","w":6678.49,"f":0.641},{"s":"o","w":6678.81,"f":0.624},{"s":"o","w":6679.12,"f":0.652},{"s":"o","w":6679.43,"f":0.718},{"s":"o","w":6679.75,"f":0.806},{"s":"o","w":6680.06,"f":0.883},{"s":"o","w":6680.38,"f":0.933},{"s":"o","w":6680.69,"f":0.949},{"s":"o","w":6681.01,"f":0.96},{"s":"o","w":6681.4,"f":0.972},{"s":"o","w":6681.79,"f":0.966},{"s":"o","w":6682.19,"f":0.974},{"s":"o","w":6682.74,"f":0.977},{"s":"o","w":6683.37,"f":0.983},{"s":"o","w":6683.99,"f":0.988},{"s":"o","w":6684.54,"f":0.991},{"s":"o","w":6685.33,"f":0.994},{"s":"o","w":6685.88,"f":0.999},{"s":"o","w":6686.51,"f":0.996},{"s":"o","w":6687.3,"f":0.999},{"s":"o","w":6688.08,"f":0.996},{"s":"o","w":6688.87,"f":0.999},{"s":"o","w":6689.66,"f":1.002},{"s":"o","w":6690.44,"f":0.999},{"s":"o","w":6691.23,"f":1.002},{"s":"o","w":6692.01,"f":1.005},{"s":"o","w":6692.8,"f":1.002},{"s":"o","w":6693.59,"f":1.005},{"s":"o","w":6694.37,"f":1.007},{"s":"o","w":6695.0,"f":1.005},
{"s":"k","w":6670.0,"f":1.002},{"s":"k","w":6672.36,"f":0.999},{"s":"k","w":6674.72,"f":0.991},{"s":"k","w":6675.9,"f":0.977},{"s":"k","w":6676.68,"f":0.944},{"s":"k","w":6677.23,"f":0.872},{"s":"k","w":6677.7,"f":0.751},{"s":"k","w":6678.1,"f":0.652},{"s":"k","w":6678.41,"f":0.6},{"s":"k","w":6678.73,"f":0.663},{"s":"k","w":6679.12,"f":0.795},{"s":"k","w":6679.59,"f":0.905},{"s":"k","w":6680.22,"f":0.96},{"s":"k","w":6681.4,"f":0.988},{"s":"k","w":6683.37,"f":0.999},{"s":"k","w":6686.51,"f":1.002},{"s":"k","w":6695.0,"f":1.005},
{"s":"b","w":6670.0,"f":1.002},{"s":"b","w":6672.36,"f":0.999},{"s":"b","w":6674.72,"f":0.991},{"s":"b","w":6675.9,"f":0.977},{"s":"b","w":6676.68,"f":0.955},{"s":"b","w":6677.23,"f":0.89},{"s":"b","w":6677.7,"f":0.8},{"s":"b","w":6678.18,"f":0.7},{"s":"b","w":6678.57,"f":0.655},{"s":"b","w":6678.96,"f":0.7},{"s":"b","w":6679.36,"f":0.82},{"s":"b","w":6679.83,"f":0.92},{"s":"b","w":6680.38,"f":0.962},{"s":"b","w":6681.4,"f":0.988},{"s":"b","w":6683.37,"f":0.999},{"s":"b","w":6686.51,"f":1.002},{"s":"b","w":6695.0,"f":1.005}
 ],
 "He4200": [
{"s":"o","w":4191.0,"f":0.9997},{"s":"o","w":4191.23,"f":1.0007},{"s":"o","w":4191.46,"f":1.0027},{"s":"o","w":4191.7,"f":0.9976},{"s":"o","w":4191.93,"f":0.9885},{"s":"o","w":4192.16,"f":0.9864},{"s":"o","w":4192.3,"f":0.9813},{"s":"o","w":4192.48,"f":0.9783},{"s":"o","w":4192.62,"f":0.9834},{"s":"o","w":4192.85,"f":0.9874},{"s":"o","w":4193.09,"f":0.9925},{"s":"o","w":4193.32,"f":0.9946},{"s":"o","w":4193.55,"f":0.9966},{"s":"o","w":4193.78,"f":0.9976},{"s":"o","w":4194.01,"f":0.9986},{"s":"o","w":4194.24,"f":0.9966},{"s":"o","w":4194.48,"f":0.9976},{"s":"o","w":4194.71,"f":0.9946},{"s":"o","w":4194.94,"f":0.9956},{"s":"o","w":4195.17,"f":0.9915},{"s":"o","w":4195.4,"f":0.9905},{"s":"o","w":4195.63,"f":0.9874},{"s":"o","w":4195.87,"f":0.9885},{"s":"o","w":4196.1,"f":0.9874},{"s":"o","w":4196.33,"f":0.9864},{"s":"o","w":4196.56,"f":0.9844},{"s":"o","w":4196.79,"f":0.9834},{"s":"o","w":4197.02,"f":0.9844},{"s":"o","w":4197.16,"f":0.9956},{"s":"o","w":4197.35,"f":1.0027},{"s":"o","w":4197.53,"f":0.9997},{"s":"o","w":4197.72,"f":0.9976},{"s":"o","w":4197.9,"f":0.9997},{"s":"o","w":4198.09,"f":0.9986},{"s":"o","w":4198.28,"f":0.9925},{"s":"o","w":4198.46,"f":0.9997},{"s":"o","w":4198.65,"f":0.9976},{"s":"o","w":4198.88,"f":0.9986},{"s":"o","w":4199.11,"f":0.9966},{"s":"o","w":4199.34,"f":0.9915},{"s":"o","w":4199.57,"f":0.9895},{"s":"o","w":4199.8,"f":0.9773},{"s":"o","w":4200.04,"f":0.9762},{"s":"o","w":4200.22,"f":0.9915},{"s":"o","w":4200.41,"f":0.9997},{"s":"o","w":4200.59,"f":0.9993},{"s":"o","w":4200.78,"f":1.0001},{"s":"o","w":4200.96,"f":1.0017},{"s":"o","w":4201.19,"f":1.0017},{"s":"o","w":4201.43,"f":1.0088},{"s":"o","w":4201.66,"f":1.0068},{"s":"o","w":4201.89,"f":1.0027},{"s":"o","w":4202.08,"f":1.0058},{"s":"o","w":4202.26,"f":1.0017},{"s":"o","w":4202.45,"f":1.0037},{"s":"o","w":4202.63,"f":0.9997},{"s":"o","w":4202.82,"f":1.0017},{"s":"o","w":4203.05,"f":1.0027},{"s":"o","w":4203.28,"f":0.9986},{"s":"o","w":4203.51,"f":0.9956},{"s":"o","w":4203.74,"f":0.9997},{"s":"o","w":4203.98,"f":1.0001},{"s":"o","w":4204.21,"f":1.0017},{"s":"o","w":4204.44,"f":1.0027},{"s":"o","w":4204.67,"f":1.0021},{"s":"o","w":4204.9,"f":1.0037},{"s":"o","w":4205.13,"f":1.0007},{"s":"o","w":4205.37,"f":0.9997},{"s":"o","w":4205.6,"f":1.0017},{"s":"o","w":4205.83,"f":0.9976},{"s":"o","w":4206.06,"f":0.9936},{"s":"o","w":4206.29,"f":0.9966},{"s":"o","w":4206.52,"f":0.9997},{"s":"o","w":4206.76,"f":0.9956},{"s":"o","w":4206.99,"f":0.9925},{"s":"o","w":4207.22,"f":0.9966},{"s":"o","w":4207.45,"f":0.9997},{"s":"o","w":4207.68,"f":1.0017},{"s":"o","w":4207.91,"f":1.0048},{"s":"o","w":4208.15,"f":1.0017},{"s":"o","w":4208.38,"f":0.9986},{"s":"o","w":4208.61,"f":1.0037},{"s":"o","w":4208.84,"f":1.0048},{"s":"o","w":4209.07,"f":0.9976},{"s":"o","w":4209.3,"f":1.0037},{"s":"o","w":4209.54,"f":1.0054},{"s":"o","w":4209.77,"f":1.0027},{"s":"o","w":4210.0,"f":1.0017},
{"s":"k","w":4191.0,"f":1.0027},{"s":"k","w":4194.01,"f":1.002},{"s":"k","w":4196.33,"f":1.001},{"s":"k","w":4198.18,"f":0.9997},{"s":"k","w":4199.57,"f":0.9986},{"s":"k","w":4200.5,"f":0.9993},{"s":"k","w":4202.35,"f":1.0007},{"s":"k","w":4204.67,"f":1.0017},{"s":"k","w":4207.45,"f":1.0025},{"s":"k","w":4210.0,"f":1.0027},
{"s":"b","w":4191.0,"f":1.0027},{"s":"b","w":4194.01,"f":1.002},{"s":"b","w":4196.33,"f":1.001},{"s":"b","w":4198.18,"f":0.9997},{"s":"b","w":4199.57,"f":0.9987},{"s":"b","w":4200.5,"f":0.9994},{"s":"b","w":4202.35,"f":1.0007},{"s":"b","w":4204.67,"f":1.0017},{"s":"b","w":4207.45,"f":1.0025},{"s":"b","w":4210.0,"f":1.0027}
 ],
 "He4541": [
{"s":"o","w":4532.0,"f":0.997},{"s":"o","w":4532.23,"f":0.9944},{"s":"o","w":4532.47,"f":0.9961},{"s":"o","w":4532.7,"f":0.997},{"s":"o","w":4532.93,"f":0.9979},{"s":"o","w":4533.16,"f":0.9974},{"s":"o","w":4533.4,"f":0.9997},{"s":"o","w":4533.63,"f":0.997},{"s":"o","w":4533.86,"f":0.9961},{"s":"o","w":4534.1,"f":0.9926},{"s":"o","w":4534.33,"f":0.9872},{"s":"o","w":4534.56,"f":0.9899},{"s":"o","w":4534.79,"f":0.989},{"s":"o","w":4535.03,"f":0.9846},{"s":"o","w":4535.26,"f":0.9881},{"s":"o","w":4535.49,"f":0.989},{"s":"o","w":4535.73,"f":0.9881},{"s":"o","w":4535.96,"f":0.9908},{"s":"o","w":4536.19,"f":0.9926},{"s":"o","w":4536.42,"f":0.9917},{"s":"o","w":4536.66,"f":0.9944},{"s":"o","w":4536.89,"f":0.9926},{"s":"o","w":4537.12,"f":0.9952},{"s":"o","w":4537.36,"f":0.9926},{"s":"o","w":4537.59,"f":0.9961},{"s":"o","w":4537.82,"f":0.9944},{"s":"o","w":4538.05,"f":0.9935},{"s":"o","w":4538.29,"f":0.9917},{"s":"o","w":4538.52,"f":0.9944},{"s":"o","w":4538.75,"f":0.9899},{"s":"o","w":4538.99,"f":0.9926},{"s":"o","w":4539.22,"f":0.989},{"s":"o","w":4539.45,"f":0.9917},{"s":"o","w":4539.68,"f":0.9872},{"s":"o","w":4539.92,"f":0.9908},{"s":"o","w":4540.15,"f":0.9863},{"s":"o","w":4540.38,"f":0.9899},{"s":"o","w":4540.62,"f":0.9881},{"s":"o","w":4540.85,"f":0.9863},{"s":"o","w":4541.08,"f":0.9899},{"s":"o","w":4541.31,"f":0.9872},{"s":"o","w":4541.55,"f":0.9908},{"s":"o","w":4541.78,"f":0.989},{"s":"o","w":4542.01,"f":0.9917},{"s":"o","w":4542.25,"f":0.9881},{"s":"o","w":4542.48,"f":0.9908},{"s":"o","w":4542.71,"f":0.989},{"s":"o","w":4542.94,"f":0.9926},{"s":"o","w":4543.18,"f":0.9881},{"s":"o","w":4543.41,"f":0.9908},{"s":"o","w":4543.64,"f":0.9917},{"s":"o","w":4543.88,"f":0.989},{"s":"o","w":4544.11,"f":0.9926},{"s":"o","w":4544.34,"f":0.9899},{"s":"o","w":4544.57,"f":0.9917},{"s":"o","w":4544.81,"f":0.9881},{"s":"o","w":4545.04,"f":0.9926},{"s":"o","w":4545.27,"f":0.9863},{"s":"o","w":4545.51,"f":0.9935},{"s":"o","w":4545.74,"f":0.9926},{"s":"o","w":4545.97,"f":0.9952},{"s":"o","w":4546.2,"f":0.9935},{"s":"o","w":4546.44,"f":0.9961},{"s":"o","w":4546.67,"f":0.9926},{"s":"o","w":4546.9,"f":0.9952},{"s":"o","w":4547.14,"f":0.9944},{"s":"o","w":4547.37,"f":0.9917},{"s":"o","w":4547.6,"f":0.9952},{"s":"o","w":4547.83,"f":0.9944},{"s":"o","w":4548.07,"f":0.9935},{"s":"o","w":4548.3,"f":0.9961},{"s":"o","w":4548.53,"f":0.9952},{"s":"o","w":4548.77,"f":0.9926},{"s":"o","w":4549.0,"f":0.9961},{"s":"o","w":4549.23,"f":0.997},{"s":"o","w":4549.46,"f":0.9944},{"s":"o","w":4549.7,"f":0.997},{"s":"o","w":4549.93,"f":0.9961},{"s":"o","w":4550.16,"f":0.9997},{"s":"o","w":4550.4,"f":0.997},{"s":"o","w":4550.63,"f":0.9952},{"s":"o","w":4550.86,"f":0.9935},{"s":"o","w":4551.0,"f":0.9931},
{"s":"k","w":4532.0,"f":0.9979},{"s":"k","w":4535.03,"f":0.9976},{"s":"k","w":4537.82,"f":0.9967},{"s":"k","w":4539.22,"f":0.9952},{"s":"k","w":4540.62,"f":0.9931},{"s":"k","w":4541.55,"f":0.9922},{"s":"k","w":4542.48,"f":0.9938},{"s":"k","w":4543.88,"f":0.9961},{"s":"k","w":4545.74,"f":0.9974},{"s":"k","w":4548.07,"f":0.9977},{"s":"k","w":4551.0,"f":0.9979},
{"s":"b","w":4532.0,"f":0.9979},{"s":"b","w":4535.03,"f":0.9976},{"s":"b","w":4537.82,"f":0.9968},{"s":"b","w":4539.22,"f":0.9954},{"s":"b","w":4540.62,"f":0.9933},{"s":"b","w":4541.55,"f":0.9924},{"s":"b","w":4542.48,"f":0.994},{"s":"b","w":4543.88,"f":0.9962},{"s":"b","w":4545.74,"f":0.9974},{"s":"b","w":4548.07,"f":0.9977},{"s":"b","w":4551.0,"f":0.9979}
 ],
 "He4686": [
{"s":"o","w":4677.0,"f":0.9685},{"s":"o","w":4677.17,"f":0.9783},{"s":"o","w":4677.35,"f":0.9811},{"s":"o","w":4677.56,"f":0.9825},{"s":"o","w":4677.78,"f":0.9797},{"s":"o","w":4678.0,"f":0.9783},{"s":"o","w":4678.21,"f":0.9811},{"s":"o","w":4678.43,"f":0.9839},{"s":"o","w":4678.64,"f":0.9895},{"s":"o","w":4678.86,"f":0.9923},{"s":"o","w":4679.08,"f":0.9951},{"s":"o","w":4679.29,"f":0.9965},{"s":"o","w":4679.51,"f":0.9984},{"s":"o","w":4679.73,"f":0.9973},{"s":"o","w":4679.94,"f":0.9951},{"s":"o","w":4680.16,"f":0.9965},{"s":"o","w":4680.38,"f":0.9956},{"s":"o","w":4680.59,"f":0.9937},{"s":"o","w":4680.81,"f":0.9956},{"s":"o","w":4681.02,"f":0.9951},{"s":"o","w":4681.24,"f":0.9965},{"s":"o","w":4681.46,"f":0.9951},{"s":"o","w":4681.67,"f":0.9937},{"s":"o","w":4681.89,"f":0.9951},{"s":"o","w":4682.11,"f":0.9909},{"s":"o","w":4682.32,"f":0.9881},{"s":"o","w":4682.54,"f":0.9867},{"s":"o","w":4682.75,"f":0.9873},{"s":"o","w":4682.97,"f":0.9895},{"s":"o","w":4683.19,"f":0.9881},{"s":"o","w":4683.4,"f":0.9867},{"s":"o","w":4683.62,"f":0.9881},{"s":"o","w":4683.84,"f":0.9839},{"s":"o","w":4684.05,"f":0.9825},{"s":"o","w":4684.27,"f":0.9811},{"s":"o","w":4684.49,"f":0.9769},{"s":"o","w":4684.7,"f":0.9699},{"s":"o","w":4684.92,"f":0.9615},{"s":"o","w":4685.13,"f":0.9503},{"s":"o","w":4685.35,"f":0.9391},{"s":"o","w":4685.57,"f":0.9279},{"s":"o","w":4685.78,"f":0.9195},{"s":"o","w":4686.0,"f":0.9173},{"s":"o","w":4686.22,"f":0.9251},{"s":"o","w":4686.43,"f":0.9391},{"s":"o","w":4686.65,"f":0.9587},{"s":"o","w":4686.87,"f":0.9755},{"s":"o","w":4687.08,"f":0.9853},{"s":"o","w":4687.3,"f":0.9909},{"s":"o","w":4687.51,"f":0.9923},{"s":"o","w":4687.73,"f":0.9937},{"s":"o","w":4687.95,"f":0.9965},{"s":"o","w":4688.16,"f":0.9979},{"s":"o","w":4688.38,"f":0.9956},{"s":"o","w":4688.6,"f":0.9993},{"s":"o","w":4688.81,"f":0.9979},{"s":"o","w":4689.03,"f":1.0021},{"s":"o","w":4689.25,"f":0.9993},{"s":"o","w":4689.46,"f":1.0007},{"s":"o","w":4689.68,"f":0.9979},{"s":"o","w":4689.89,"f":0.9984},{"s":"o","w":4690.11,"f":0.9973},{"s":"o","w":4690.33,"f":0.9951},{"s":"o","w":4690.54,"f":0.9867},{"s":"o","w":4690.76,"f":0.9825},{"s":"o","w":4690.98,"f":0.9789},{"s":"o","w":4691.19,"f":0.9777},{"s":"o","w":4691.41,"f":0.9811},{"s":"o","w":4691.63,"f":0.9839},{"s":"o","w":4691.84,"f":0.9895},{"s":"o","w":4692.06,"f":0.9937},{"s":"o","w":4692.27,"f":0.9965},{"s":"o","w":4692.49,"f":0.9923},{"s":"o","w":4692.71,"f":0.9895},{"s":"o","w":4692.92,"f":0.9937},{"s":"o","w":4693.14,"f":0.9909},{"s":"o","w":4693.36,"f":0.9923},{"s":"o","w":4693.57,"f":0.9951},{"s":"o","w":4693.79,"f":0.9909},{"s":"o","w":4694.01,"f":0.9937},{"s":"o","w":4694.22,"f":0.9881},{"s":"o","w":4694.44,"f":0.9853},{"s":"o","w":4694.65,"f":0.9867},{"s":"o","w":4694.87,"f":0.9861},{"s":"o","w":4695.0,"f":0.9873},
{"s":"k","w":4677.0,"f":0.9973},{"s":"k","w":4682.97,"f":0.9968},{"s":"k","w":4684.05,"f":0.9937},{"s":"k","w":4684.7,"f":0.9839},{"s":"k","w":4685.13,"f":0.9671},{"s":"k","w":4685.48,"f":0.9447},{"s":"k","w":4685.74,"f":0.9251},{"s":"k","w":4686.0,"f":0.9134},{"s":"k","w":4686.26,"f":0.9279},{"s":"k","w":4686.52,"f":0.9503},{"s":"k","w":4686.87,"f":0.9755},{"s":"k","w":4687.3,"f":0.9909},{"s":"k","w":4687.95,"f":0.9956},{"s":"k","w":4689.46,"f":0.997},{"s":"k","w":4695.0,"f":0.9973},
{"s":"b","w":4677.0,"f":0.9973},{"s":"b","w":4682.97,"f":0.9968},{"s":"b","w":4684.05,"f":0.9937},{"s":"b","w":4684.7,"f":0.9839},{"s":"b","w":4685.13,"f":0.9671},{"s":"b","w":4685.48,"f":0.9447},{"s":"b","w":4685.74,"f":0.93},{"s":"b","w":4686.0,"f":0.9223},{"s":"b","w":4686.26,"f":0.932},{"s":"b","w":4686.52,"f":0.9503},{"s":"b","w":4686.87,"f":0.9755},{"s":"b","w":4687.3,"f":0.9909},{"s":"b","w":4687.95,"f":0.9956},{"s":"b","w":4689.46,"f":0.997},{"s":"b","w":4695.0,"f":0.9973}
 ],
 "params": [
{"col":"k","line":1,"text":"T\u00a0\u00a0\u00a0\u00a0= 29000 K","sub":"eff"},
{"col":"k","line":2,"text":"logg = 4.1 dex"},
{"col":"k","line":3,"text":"ϵ = 0.09 dex"},
{"col":"k","line":4,"text":"ξ\u00a0\u00a0\u00a0= 10 km/s","sub":"t"},
{"col":"k","line":5,"text":"logQ = −13.5"},
{"col":"b","line":1,"text":"T\u00a0\u00a0\u00a0\u00a0= 29000 K","sub":"eff"},
{"col":"b","line":2,"text":"logg = 4.1 dex"},
{"col":"b","line":3,"text":"ϵ = 0.09 dex"},
{"col":"b","line":4,"text":"ξ\u00a0\u00a0\u00a0= 0 km/s","sub":"t"},
{"col":"b","line":5,"text":"logQ = −13.5"}
 ]
},
"spacing": 3,
"vconcat": [
{"hconcat": [
 {"width":175,"height":180,"title":"Hδ","data":{"name":"Hd"},"resolve":{"axis":{"x":"independent","y":"independent"}},"layer":[
  {"transform":[{"filter":"datum.s=='o'"}],"mark":{"type":"line","color":"#e8141c","strokeWidth":1.8,"clip":true},"encoding":{"x":{"field":"w","type":"quantitative","title":"λ (A)","scale":{"domain":[4080,4120],"nice":false,"zero":false},"axis":{"values":[4080,4100,4120],"labelExpr":"''+floor(datum.value)"}},"y":{"field":"f","type":"quantitative","title":null,"scale":{"domain":[0.53,1.02],"nice":false,"zero":false},"axis":{"values":[0.53,0.6525,0.775,0.8975,1.02],"labelExpr":"['0.53','0.65','0.77','0.90','1.02'][round(datum.index*4)]"}}}},
  {"transform":[{"filter":"datum.s=='k'"}],"mark":{"type":"line","color":"#000000","strokeWidth":2,"interpolate":"monotone","clip":true},"encoding":{"x":{"field":"w","type":"quantitative","axis":{"orient":"top","labels":false,"title":null,"values":[4080,4100,4120]}},"y":{"field":"f","type":"quantitative","axis":{"orient":"right","labels":false,"title":null,"values":[0.53,0.6525,0.775,0.8975,1.02]}}}},
  {"transform":[{"filter":"datum.s=='b'"}],"mark":{"type":"line","color":"#2394dc","strokeWidth":2,"strokeDash":[7,3],"interpolate":"monotone","clip":true},"encoding":{"x":{"field":"w","type":"quantitative","axis":null},"y":{"field":"f","type":"quantitative","axis":null}}}]},
 {"width":176,"height":180,"title":"Hγ","data":{"name":"Hg"},"resolve":{"axis":{"x":"independent","y":"independent"}},"layer":[
  {"transform":[{"filter":"datum.s=='o'"}],"mark":{"type":"line","color":"#e8141c","strokeWidth":1.8,"clip":true},"encoding":{"x":{"field":"w","type":"quantitative","title":"λ (A)","scale":{"domain":[4315,4365],"nice":false,"zero":false},"axis":{"values":[4315,4340,4365],"labelExpr":"''+floor(datum.value)"}},"y":{"field":"f","type":"quantitative","title":null,"scale":{"domain":[0.53,1.02],"nice":false,"zero":false},"axis":{"values":[0.53,0.6525,0.775,0.8975,1.02],"labelExpr":"['0.53','0.65','0.77','0.90','1.02'][round(datum.index*4)]"}}}},
  {"transform":[{"filter":"datum.s=='k'"}],"mark":{"type":"line","color":"#000000","strokeWidth":2,"interpolate":"monotone","clip":true},"encoding":{"x":{"field":"w","type":"quantitative","axis":{"orient":"top","labels":false,"title":null,"values":[4315,4340,4365]}},"y":{"field":"f","type":"quantitative","axis":{"orient":"right","labels":false,"title":null,"values":[0.53,0.6525,0.775,0.8975,1.02]}}}},
  {"transform":[{"filter":"datum.s=='b'"}],"mark":{"type":"line","color":"#2394dc","strokeWidth":2,"strokeDash":[7,3],"interpolate":"monotone","clip":true},"encoding":{"x":{"field":"w","type":"quantitative","axis":null},"y":{"field":"f","type":"quantitative","axis":null}}}]},
 {"width":176,"height":180,"title":"Hβ","data":{"name":"Hb"},"resolve":{"axis":{"x":"independent","y":"independent"}},"layer":[
  {"transform":[{"filter":"datum.s=='o'"}],"mark":{"type":"line","color":"#e8141c","strokeWidth":1.8,"clip":true},"encoding":{"x":{"field":"w","type":"quantitative","title":"λ (A)","scale":{"domain":[4839,4884],"nice":false,"zero":false},"axis":{"values":[4839,4861.5,4884],"labelExpr":"''+floor(datum.value)"}},"y":{"field":"f","type":"quantitative","title":null,"scale":{"domain":[0.5,1.02],"nice":false,"zero":false},"axis":{"values":[0.5,0.63,0.76,0.89,1.02],"labelExpr":"['0.50','0.63','0.76','0.89','1.02'][round(datum.index*4)]"}}}},
  {"transform":[{"filter":"datum.s=='k'"}],"mark":{"type":"line","color":"#000000","strokeWidth":2,"interpolate":"monotone","clip":true},"encoding":{"x":{"field":"w","type":"quantitative","axis":{"orient":"top","labels":false,"title":null,"values":[4839,4861.5,4884]}},"y":{"field":"f","type":"quantitative","axis":{"orient":"right","labels":false,"title":null,"values":[0.5,0.63,0.76,0.89,1.02]}}}},
  {"transform":[{"filter":"datum.s=='b'"}],"mark":{"type":"line","color":"#2394dc","strokeWidth":2,"strokeDash":[7,3],"interpolate":"monotone","clip":true},"encoding":{"x":{"field":"w","type":"quantitative","axis":null},"y":{"field":"f","type":"quantitative","axis":null}}}]},
 {"width":166,"height":180,"title":"Hα","data":{"name":"Ha"},"resolve":{"axis":{"x":"independent","y":"independent"}},"layer":[
  {"transform":[{"filter":"datum.s=='o'"}],"mark":{"type":"line","color":"#e8141c","strokeWidth":1.8,"clip":true},"encoding":{"x":{"field":"w","type":"quantitative","title":"λ (A)","scale":{"domain":[6535,6590],"nice":false,"zero":false},"axis":{"values":[6535,6562.5,6590],"labelExpr":"''+floor(datum.value)"}},"y":{"field":"f","type":"quantitative","title":null,"scale":{"domain":[0.52,1.07],"nice":false,"zero":false},"axis":{"values":[0.52,0.6575,0.795,0.9325,1.07],"labelExpr":"['0.52','0.66','0.79','0.93','1.07'][round(datum.index*4)]"}}}},
  {"transform":[{"filter":"datum.s=='k'"}],"mark":{"type":"line","color":"#000000","strokeWidth":2,"interpolate":"monotone","clip":true},"encoding":{"x":{"field":"w","type":"quantitative","axis":{"orient":"top","labels":false,"title":null,"values":[6535,6562.5,6590]}},"y":{"field":"f","type":"quantitative","axis":{"orient":"right","labels":false,"title":null,"values":[0.52,0.6575,0.795,0.9325,1.07]}}}},
  {"transform":[{"filter":"datum.s=='b'"}],"mark":{"type":"line","color":"#2394dc","strokeWidth":2,"strokeDash":[7,3],"interpolate":"monotone","clip":true},"encoding":{"x":{"field":"w","type":"quantitative","axis":null},"y":{"field":"f","type":"quantitative","axis":null}}}]}
], "spacing": 46, "bounds": "flush"},
{"hconcat": [
 {"width":116,"height":127,"title":"HeI4387","data":{"name":"He4387"},"resolve":{"axis":{"x":"independent","y":"independent"}},"layer":[
  {"transform":[{"filter":"datum.s=='o'"}],"mark":{"type":"line","color":"#e8141c","strokeWidth":1.8,"clip":true},"encoding":{"x":{"field":"w","type":"quantitative","title":"λ (A)","scale":{"domain":[4380,4395],"nice":false,"zero":false},"axis":{"values":[4380,4387.5,4395],"labelExpr":"''+floor(datum.value)"}},"y":{"field":"f","type":"quantitative","title":null,"scale":{"domain":[0.69,1.02],"nice":false,"zero":false},"axis":{"values":[0.69,0.7725,0.855,0.9375,1.02],"labelExpr":"['0.69','0.77','0.85','0.94','1.02'][round(datum.index*4)]"}}}},
  {"transform":[{"filter":"datum.s=='k'"}],"mark":{"type":"line","color":"#000000","strokeWidth":2,"interpolate":"monotone","clip":true},"encoding":{"x":{"field":"w","type":"quantitative","axis":{"orient":"top","labels":false,"title":null,"values":[4380,4387.5,4395]}},"y":{"field":"f","type":"quantitative","axis":{"orient":"right","labels":false,"title":null,"values":[0.69,0.7725,0.855,0.9375,1.02]}}}},
  {"transform":[{"filter":"datum.s=='b'"}],"mark":{"type":"line","color":"#2394dc","strokeWidth":2,"strokeDash":[7,3],"interpolate":"monotone","clip":true},"encoding":{"x":{"field":"w","type":"quantitative","axis":null},"y":{"field":"f","type":"quantitative","axis":null}}}]},
 {"width":105,"height":127,"title":"HeI4471","data":{"name":"He4471"},"resolve":{"axis":{"x":"independent","y":"independent"}},"layer":[
  {"transform":[{"filter":"datum.s=='o'"}],"mark":{"type":"line","color":"#e8141c","strokeWidth":1.8,"clip":true},"encoding":{"x":{"field":"w","type":"quantitative","title":"λ (A)","scale":{"domain":[4463,4478],"nice":false,"zero":false},"axis":{"values":[4463,4470.5,4478],"labelExpr":"''+floor(datum.value)"}},"y":{"field":"f","type":"quantitative","title":null,"scale":{"domain":[0.6,1.02],"nice":false,"zero":false},"axis":{"values":[0.6,0.705,0.81,0.915,1.02],"labelExpr":"['0.60','0.70','0.81','0.91','1.02'][round(datum.index*4)]"}}}},
  {"transform":[{"filter":"datum.s=='k'"}],"mark":{"type":"line","color":"#000000","strokeWidth":2,"interpolate":"monotone","clip":true},"encoding":{"x":{"field":"w","type":"quantitative","axis":{"orient":"top","labels":false,"title":null,"values":[4463,4470.5,4478]}},"y":{"field":"f","type":"quantitative","axis":{"orient":"right","labels":false,"title":null,"values":[0.6,0.705,0.81,0.915,1.02]}}}},
  {"transform":[{"filter":"datum.s=='b'"}],"mark":{"type":"line","color":"#2394dc","strokeWidth":2,"strokeDash":[7,3],"interpolate":"monotone","clip":true},"encoding":{"x":{"field":"w","type":"quantitative","axis":null},"y":{"field":"f","type":"quantitative","axis":null}}}]},
 {"width":106,"height":127,"title":"HeI4922","data":{"name":"He4922"},"resolve":{"axis":{"x":"independent","y":"independent"}},"layer":[
  {"transform":[{"filter":"datum.s=='o'"}],"mark":{"type":"line","color":"#e8141c","strokeWidth":1.8,"clip":true},"encoding":{"x":{"field":"w","type":"quantitative","title":"λ (A)","scale":{"domain":[4915,4930],"nice":false,"zero":false},"axis":{"values":[4915,4922.5,4930],"labelExpr":"''+floor(datum.value)"}},"y":{"field":"f","type":"quantitative","title":null,"scale":{"domain":[0.66,1.02],"nice":false,"zero":false},"axis":{"values":[0.66,0.75,0.84,0.93,1.02],"labelExpr":"['0.66','0.75','0.84','0.93','1.02'][round(datum.index*4)]"}}}},
  {"transform":[{"filter":"datum.s=='k'"}],"mark":{"type":"line","color":"#000000","strokeWidth":2,"interpolate":"monotone","clip":true},"encoding":{"x":{"field":"w","type":"quantitative","axis":{"orient":"top","labels":false,"title":null,"values":[4915,4922.5,4930]}},"y":{"field":"f","type":"quantitative","axis":{"orient":"right","labels":false,"title":null,"values":[0.66,0.75,0.84,0.93,1.02]}}}},
  {"transform":[{"filter":"datum.s=='b'"}],"mark":{"type":"line","color":"#2394dc","strokeWidth":2,"strokeDash":[7,3],"interpolate":"monotone","clip":true},"encoding":{"x":{"field":"w","type":"quantitative","axis":null},"y":{"field":"f","type":"quantitative","axis":null}}}]},
 {"width":106,"height":127,"title":"HeI5015","data":{"name":"He5015"},"resolve":{"axis":{"x":"independent","y":"independent"}},"layer":[
  {"transform":[{"filter":"datum.s=='o'"}],"mark":{"type":"line","color":"#e8141c","strokeWidth":1.8,"clip":true},"encoding":{"x":{"field":"w","type":"quantitative","title":"λ (A)","scale":{"domain":[5010,5020],"nice":false,"zero":false},"axis":{"values":[5010,5015,5020],"labelExpr":"''+floor(datum.value)"}},"y":{"field":"f","type":"quantitative","title":null,"scale":{"domain":[0.76,1.02],"nice":false,"zero":false},"axis":{"values":[0.76,0.825,0.89,0.955,1.02],"labelExpr":"['0.76','0.82','0.89','0.96','1.02'][round(datum.index*4)]"}}}},
  {"transform":[{"filter":"datum.s=='k'"}],"mark":{"type":"line","color":"#000000","strokeWidth":2,"interpolate":"monotone","clip":true},"encoding":{"x":{"field":"w","type":"quantitative","axis":{"orient":"top","labels":false,"title":null,"values":[5010,5015,5020]}},"y":{"field":"f","type":"quantitative","axis":{"orient":"right","labels":false,"title":null,"values":[0.76,0.825,0.89,0.955,1.02]}}}},
  {"transform":[{"filter":"datum.s=='b'"}],"mark":{"type":"line","color":"#2394dc","strokeWidth":2,"strokeDash":[7,3],"interpolate":"monotone","clip":true},"encoding":{"x":{"field":"w","type":"quantitative","axis":null},"y":{"field":"f","type":"quantitative","axis":null}}}]},
 {"width":106,"height":127,"title":"HeI5048","data":{"name":"He5048"},"resolve":{"axis":{"x":"independent","y":"independent"}},"layer":[
  {"transform":[{"filter":"datum.s=='o'"}],"mark":{"type":"line","color":"#e8141c","strokeWidth":1.8,"clip":true},"encoding":{"x":{"field":"w","type":"quantitative","title":"λ (A)","scale":{"domain":[5040,5055],"nice":false,"zero":false},"axis":{"values":[5040,5047.5,5055],"labelExpr":"''+floor(datum.value)"}},"y":{"field":"f","type":"quantitative","title":null,"scale":{"domain":[0.85,1.02],"nice":false,"zero":false},"axis":{"values":[0.85,0.8925,0.935,0.9775,1.02],"labelExpr":"['0.85','0.90','0.94','0.98','1.02'][round(datum.index*4)]"}}}},
  {"transform":[{"filter":"datum.s=='k'"}],"mark":{"type":"line","color":"#000000","strokeWidth":2,"interpolate":"monotone","clip":true},"encoding":{"x":{"field":"w","type":"quantitative","axis":{"orient":"top","labels":false,"title":null,"values":[5040,5047.5,5055]}},"y":{"field":"f","type":"quantitative","axis":{"orient":"right","labels":false,"title":null,"values":[0.85,0.8925,0.935,0.9775,1.02]}}}},
  {"transform":[{"filter":"datum.s=='b'"}],"mark":{"type":"line","color":"#2394dc","strokeWidth":2,"strokeDash":[7,3],"interpolate":"monotone","clip":true},"encoding":{"x":{"field":"w","type":"quantitative","axis":null},"y":{"field":"f","type":"quantitative","axis":null}}}]},
 {"width":106,"height":127,"title":"HeI6678","data":{"name":"He6678"},"resolve":{"axis":{"x":"independent","y":"independent"}},"layer":[
  {"transform":[{"filter":"datum.s=='o'"}],"mark":{"type":"line","color":"#e8141c","strokeWidth":1.8,"clip":true},"encoding":{"x":{"field":"w","type":"quantitative","title":"λ (A)","scale":{"domain":[6670,6695],"nice":false,"zero":false},"axis":{"values":[6670,6682.5,6695],"labelExpr":"''+floor(datum.value)"}},"y":{"field":"f","type":"quantitative","title":null,"scale":{"domain":[0.6,1.02],"nice":false,"zero":false},"axis":{"values":[0.6,0.705,0.81,0.915,1.02],"labelExpr":"['0.60','0.71','0.81','0.92','1.02'][round(datum.index*4)]"}}}},
  {"transform":[{"filter":"datum.s=='k'"}],"mark":{"type":"line","color":"#000000","strokeWidth":2,"interpolate":"monotone","clip":true},"encoding":{"x":{"field":"w","type":"quantitative","axis":{"orient":"top","labels":false,"title":null,"values":[6670,6682.5,6695]}},"y":{"field":"f","type":"quantitative","axis":{"orient":"right","labels":false,"title":null,"values":[0.6,0.705,0.81,0.915,1.02]}}}},
  {"transform":[{"filter":"datum.s=='b'"}],"mark":{"type":"line","color":"#2394dc","strokeWidth":2,"strokeDash":[7,3],"interpolate":"monotone","clip":true},"encoding":{"x":{"field":"w","type":"quantitative","axis":null},"y":{"field":"f","type":"quantitative","axis":null}}}]}
], "spacing": 37.5, "bounds": "flush"},
{"hconcat": [
 {"width":137,"height":131,"title":"HeII4200","data":{"name":"He4200"},"resolve":{"axis":{"x":"independent","y":"independent"}},"layer":[
  {"transform":[{"filter":"datum.s=='o'"}],"mark":{"type":"line","color":"#e8141c","strokeWidth":1.8,"clip":true},"encoding":{"x":{"field":"w","type":"quantitative","title":"λ (A)","scale":{"domain":[4191,4210],"nice":false,"zero":false},"axis":{"values":[4191,4200.5,4210],"labelExpr":"''+floor(datum.value)"}},"y":{"field":"f","type":"quantitative","title":null,"scale":{"domain":[0.95,1.03],"nice":false,"zero":false},"axis":{"values":[0.95,0.97,0.99,1.01,1.03],"labelExpr":"['0.95','0.97','0.99','1.01','1.03'][round(datum.index*4)]"}}}},
  {"transform":[{"filter":"datum.s=='k'"}],"mark":{"type":"line","color":"#000000","strokeWidth":2,"interpolate":"monotone","clip":true},"encoding":{"x":{"field":"w","type":"quantitative","axis":{"orient":"top","labels":false,"title":null,"values":[4191,4200.5,4210]}},"y":{"field":"f","type":"quantitative","axis":{"orient":"right","labels":false,"title":null,"values":[0.95,0.97,0.99,1.01,1.03]}}}},
  {"transform":[{"filter":"datum.s=='b'"}],"mark":{"type":"line","color":"#2394dc","strokeWidth":2,"strokeDash":[7,3],"interpolate":"monotone","clip":true},"encoding":{"x":{"field":"w","type":"quantitative","axis":null},"y":{"field":"f","type":"quantitative","axis":null}}}]},
 {"width":136,"height":131,"title":"HeII4541","data":{"name":"He4541"},"resolve":{"axis":{"x":"independent","y":"independent"}},"layer":[
  {"transform":[{"filter":"datum.s=='o'"}],"mark":{"type":"line","color":"#e8141c","strokeWidth":1.8,"clip":true},"encoding":{"x":{"field":"w","type":"quantitative","title":"λ (A)","scale":{"domain":[4532,4551],"nice":false,"zero":false},"axis":{"values":[4532,4541.5,4551],"labelExpr":"''+floor(datum.value)"}},"y":{"field":"f","type":"quantitative","title":null,"scale":{"domain":[0.95,1.02],"nice":false,"zero":false},"axis":{"values":[0.95,0.9675,0.985,1.0025,1.02],"labelExpr":"['0.95','0.97','0.99','1.00','1.02'][round(datum.index*4)]"}}}},
  {"transform":[{"filter":"datum.s=='k'"}],"mark":{"type":"line","color":"#000000","strokeWidth":2,"interpolate":"monotone","clip":true},"encoding":{"x":{"field":"w","type":"quantitative","axis":{"orient":"top","labels":false,"title":null,"values":[4532,4541.5,4551]}},"y":{"field":"f","type":"quantitative","axis":{"orient":"right","labels":false,"title":null,"values":[0.95,0.9675,0.985,1.0025,1.02]}}}},
  {"transform":[{"filter":"datum.s=='b'"}],"mark":{"type":"line","color":"#2394dc","strokeWidth":2,"strokeDash":[7,3],"interpolate":"monotone","clip":true},"encoding":{"x":{"field":"w","type":"quantitative","axis":null},"y":{"field":"f","type":"quantitative","axis":null}}}]},
 {"width":138,"height":131,"title":"HeII4686","data":{"name":"He4686"},"resolve":{"axis":{"x":"independent","y":"independent"}},"layer":[
  {"transform":[{"filter":"datum.s=='o'"}],"mark":{"type":"line","color":"#e8141c","strokeWidth":1.8,"clip":true},"encoding":{"x":{"field":"w","type":"quantitative","title":"λ (A)","scale":{"domain":[4677,4695],"nice":false,"zero":false},"axis":{"values":[4677,4686,4695],"labelExpr":"''+floor(datum.value)"}},"y":{"field":"f","type":"quantitative","title":null,"scale":{"domain":[0.91,1.02],"nice":false,"zero":false},"axis":{"values":[0.91,0.9375,0.965,0.9925,1.02],"labelExpr":"['0.91','0.94','0.97','0.99','1.02'][round(datum.index*4)]"}}}},
  {"transform":[{"filter":"datum.s=='k'"}],"mark":{"type":"line","color":"#000000","strokeWidth":2,"interpolate":"monotone","clip":true},"encoding":{"x":{"field":"w","type":"quantitative","axis":{"orient":"top","labels":false,"title":null,"values":[4677,4686,4695]}},"y":{"field":"f","type":"quantitative","axis":{"orient":"right","labels":false,"title":null,"values":[0.91,0.9375,0.965,0.9925,1.02]}}}},
  {"transform":[{"filter":"datum.s=='b'"}],"mark":{"type":"line","color":"#2394dc","strokeWidth":2,"strokeDash":[7,3],"interpolate":"monotone","clip":true},"encoding":{"x":{"field":"w","type":"quantitative","axis":null},"y":{"field":"f","type":"quantitative","axis":null}}}]},
 {"width":300,"height":131,"view":{"stroke":null},"layer":[
  {"data":{"name":"params"},"mark":{"type":"text","align":"left","baseline":"alphabetic","fontSize":16},"encoding":{"x":{"field":"col","type":"nominal","scale":{"type":"point","domain":["k","b"],"range":[34,189],"padding":0},"axis":null},"y":{"field":"line","type":"quantitative","scale":{"domain":[-1.37,6.01],"reverse":true,"nice":false,"zero":false},"axis":null},"text":{"field":"text"},"color":{"field":"col","type":"nominal","scale":{"domain":["k","b"],"range":["#444444","#3d9fe3"]},"legend":null}}},
  {"data":{"name":"params"},"transform":[{"filter":"isValid(datum.sub)"}],"mark":{"type":"text","align":"left","baseline":"alphabetic","fontSize":11,"dx":10,"dy":4},"encoding":{"x":{"field":"col","type":"nominal","axis":null},"y":{"field":"line","type":"quantitative","axis":null},"text":{"field":"sub"},"color":{"field":"col","type":"nominal","legend":null}}},
  {"data":{"values":[{"label":"HD37042"}]},"mark":{"type":"text","align":"left","baseline":"alphabetic","fontSize":22,"color":"#333333"},"encoding":{"x":{"datum":"k"},"y":{"datum":-0.52},"text":{"field":"label"}}},
  {"data":{"values":[{"label":"rule"}]},"mark":{"type":"rule","color":"#555555","strokeWidth":1.5},"encoding":{"x":{"datum":"k"},"x2":{"value":"width"},"y":{"datum":-0.24}}}
 ]}
], "spacing": 36, "bounds": "flush"}
]
}
